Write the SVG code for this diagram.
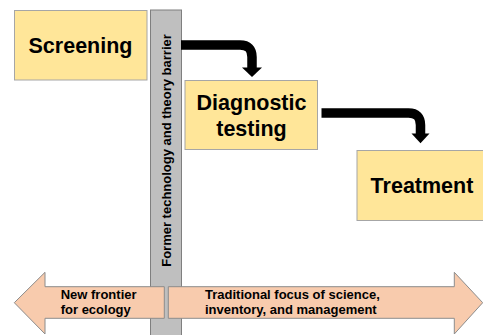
<svg xmlns="http://www.w3.org/2000/svg" width="483" height="335" viewBox="0 0 483 335">
<style>
.box{fill:#FFE699;stroke:#A6A6A6;stroke-width:1}
.big{font-family:"Liberation Sans",Arial,sans-serif;font-weight:bold;font-size:21.5px;fill:#000;text-anchor:middle}
.sm{font-family:"Liberation Sans",Arial,sans-serif;font-weight:bold;font-size:13px;fill:#000}
.peach{fill:#F8CBAD;stroke:#8C8C8C;stroke-width:1}
.conn{fill:none;stroke:#000;stroke-width:9.5}
</style>
<rect width="483" height="335" fill="#fff"/>
<g id="barrier">
<rect x="150.5" y="10" width="31" height="330" fill="#BFBFBF" stroke="#7F7F7F" stroke-width="1"/>
<text class="sm" transform="translate(171,150.5) rotate(-90)" text-anchor="middle">Former technology and theory barrier</text>
</g>
<g id="screening">
<rect class="box" x="14.5" y="10.5" width="132.5" height="69.5"/>
<text class="big" x="80.5" y="53.3">Screening</text>
</g>
<g id="diagnostic">
<rect class="box" x="185" y="80.5" width="132.5" height="69"/>
<text class="big" x="251.5" y="110">Diagnostic</text>
<text class="big" x="251.5" y="136">testing</text>
</g>
<g id="treatment">
<rect class="box" x="357" y="150.5" width="132" height="70"/>
<text class="big" x="422" y="192.7">Treatment</text>
</g>
<g id="connectors">
<path class="conn" d="M181,45 H240 Q252,45 252,57 V68"/>
<polygon points="242,67.5 262,67.5 252,77" fill="#000"/>
<path class="conn" d="M321.5,113 H408.5 Q420.5,113 420.5,125 V134"/>
<polygon points="411.5,133.5 429.5,133.5 420.5,143.3" fill="#000"/>
</g>
<g id="left-arrow">
<polygon class="peach" points="164.3,286.7 45,286.7 45,272.3 14.3,302.7 45,334 45,318.3 164.3,318.3"/>
<text class="sm" x="60.7" y="299.3">New frontier</text>
<text class="sm" x="60.7" y="314.3">for ecology</text>
</g>
<g id="right-arrow">
<polygon class="peach" points="168.3,286.7 454.3,286.7 454.3,272.3 482.7,302.7 454.3,334 454.3,318.3 168.3,318.3"/>
<text class="sm" x="205" y="298.8">Traditional focus of science,</text>
<text class="sm" x="205" y="313.8">inventory, and management</text>
</g>
</svg>
